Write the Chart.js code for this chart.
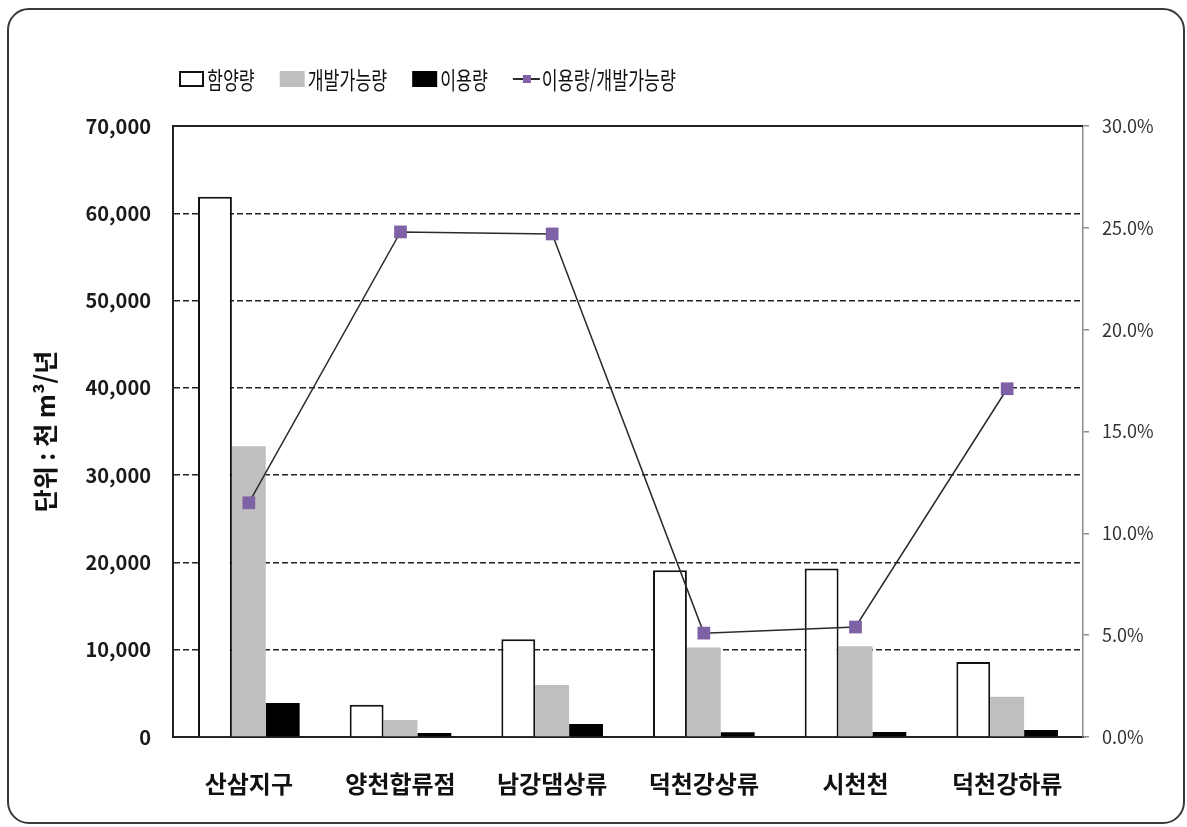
<!DOCTYPE html>
<html lang="ko">
<head>
<meta charset="utf-8">
<title>함양량 / 개발가능량 / 이용량</title>
<script src="https://cdn.jsdelivr.net/npm/chart.js@4.4.0/dist/chart.umd.min.js"></script>
<style>
    html, body { margin: 0; padding: 0; background: #fff; }
    #wrap { position: relative; width: 1187px; height: 827px; }
    #chart { position: absolute; left: 0; top: 0; }
    #frame {
        position: absolute; left: 7px; top: 8px;
        width: 1174px; height: 812px;
        border: 2px solid #3a3a3a; border-radius: 22px;
        pointer-events: none;
    }
</style>
</head>
<body>
<div id="wrap">
    <canvas id="chart" width="1187" height="827"></canvas>
    <div id="frame"></div>
</div>
<script>
// --- Data ---
const categories = ['산삼지구', '양천합류점', '남강댐상류', '덕천강상류', '시천천', '덕천강하류'];
const recharge = [61900, 3700, 11200, 19100, 19300, 8600];      // 함양량
const developable = [33300, 1950, 5950, 10250, 10400, 4600];    // 개발가능량
const usage = [3900, 470, 1500, 530, 570, 790];                 // 이용량
const usageRatio = [11.5, 24.8, 24.7, 5.1, 5.4, 17.1];          // 이용량/개발가능량 (%)

const leftTicks = { min: 0, max: 70000, step: 10000 };
const rightTicks = { min: 0, max: 30, step: 5 };

const FONT = "'Noto Sans CJK KR', 'Noto Sans', sans-serif";

// --- Legend drawn on the canvas (line item needs line + square marker) ---
// text is drawn condensed, like the narrow Hangul face of the original
const topLegend = {
    id: 'topLegend',
    afterDraw(chart) {
        const ctx = chart.ctx;
        const y = 79;
        const squeeze = 0.72;
        let x = 179;
        ctx.save();
        ctx.font = `24px ${FONT}`;
        ctx.textBaseline = 'middle';
        chart.data.datasets.forEach(ds => {
            if (ds.type === 'line') {
                ctx.strokeStyle = ds.borderColor;
                ctx.lineWidth = 2;
                ctx.beginPath();
                ctx.moveTo(x, y);
                ctx.lineTo(x + 27, y);
                ctx.stroke();
                ctx.fillStyle = ds.pointBackgroundColor;
                ctx.fillRect(x + 10, y - 4, 8, 8);
                x += 29;
            } else {
                ctx.fillStyle = ds.backgroundColor;
                ctx.fillRect(x, y - 8, 25, 16);
                if (ds.borderWidth) {
                    ctx.strokeStyle = ds.borderColor;
                    ctx.lineWidth = 2;
                    ctx.strokeRect(x + 1, y - 7, 23, 14);
                }
                x += 28;
            }
            ctx.save();
            ctx.translate(x, y + 1);
            ctx.scale(squeeze, 1);
            ctx.fillStyle = '#111';
            ctx.fillText(ds.label, 0, 0);
            ctx.restore();
            x += ctx.measureText(ds.label).width * squeeze + 25;
        });
        ctx.restore();
    }
};

// --- Solid top edge of the plot area ---
const plotTop = {
    id: 'plotTop',
    beforeDatasetsDraw(chart) {
        const { ctx, chartArea } = chart;
        ctx.save();
        ctx.strokeStyle = '#222';
        ctx.lineWidth = 2;
        ctx.beginPath();
        ctx.moveTo(chartArea.left, chartArea.top);
        ctx.lineTo(chartArea.right, chartArea.top);
        ctx.stroke();
        ctx.restore();
    }
};

const ctx = document.getElementById('chart').getContext('2d');
new Chart(ctx, {
    data: {
        labels: categories,
        datasets: [
            {
                type: 'bar', label: '함양량', data: recharge, yAxisID: 'y', order: 1,
                backgroundColor: '#ffffff', borderColor: '#111111', borderWidth: 2
            },
            {
                type: 'bar', label: '개발가능량', data: developable, yAxisID: 'y', order: 1,
                backgroundColor: '#bfbfbf', borderWidth: 0
            },
            {
                type: 'bar', label: '이용량', data: usage, yAxisID: 'y', order: 1,
                backgroundColor: '#000000', borderWidth: 0
            },
            {
                type: 'line', label: '이용량/개발가능량', data: usageRatio, yAxisID: 'y1', order: 0,
                borderColor: '#2b2b2b', borderWidth: 1.5, tension: 0,
                pointStyle: 'rect', pointRadius: 9, pointHoverRadius: 9,
                pointBackgroundColor: '#7f62a6', pointBorderColor: '#7f62a6', pointBorderWidth: 0
            }
        ]
    },
    options: {
        responsive: false,
        animation: false,
        events: [],
        layout: { padding: { top: 126, left: 26, right: 0, bottom: 0 } },
        datasets: {
            bar: { categoryPercentage: 0.67, barPercentage: 1.0 }
        },
        plugins: {
            legend: { display: false },
            tooltip: { enabled: false }
        },
        scales: {
            x: {
                grid: { display: false, drawTicks: false },
                border: { color: '#222', width: 2 },
                ticks: {
                    color: '#111', padding: 32,
                    font: { family: FONT, size: 24, weight: 'bold' }
                },
                afterFit(scale) { scale.height = 90; }
            },
            y: {
                position: 'left',
                min: leftTicks.min, max: leftTicks.max,
                border: { color: '#222', width: 2, dash: [6, 3] },
                grid: {
                    drawTicks: false,
                    lineWidth: 1.5,
                    color: c => (c.tick && (c.tick.value === leftTicks.min || c.tick.value === leftTicks.max)) ? 'rgba(0,0,0,0)' : '#222'
                },
                ticks: {
                    stepSize: leftTicks.step, padding: 22, color: '#1a1a1a',
                    font: { family: FONT, size: 20, weight: 'bold' },
                    callback: v => v.toLocaleString('en-US')
                },
                title: {
                    display: true, text: '단위 : 천 m³/년', color: '#111',
                    font: { family: FONT, size: 25, weight: 'bold' }
                },
                afterFit(scale) { scale.width = 147; }
            },
            y1: {
                position: 'right',
                min: rightTicks.min, max: rightTicks.max,
                border: { color: '#8c8c8c', width: 1.5 },
                grid: { drawOnChartArea: false, drawTicks: true, tickLength: 6, tickColor: '#8c8c8c', lineWidth: 1.5 },
                ticks: {
                    stepSize: rightTicks.step, padding: 13, color: '#333',
                    font: { family: FONT, size: 18 },
                    callback: v => v.toFixed(1) + '%'
                },
                afterFit(scale) { scale.width = 104; }
            }
        }
    },
    plugins: [topLegend, plotTop]
});
</script>
</body>
</html>
